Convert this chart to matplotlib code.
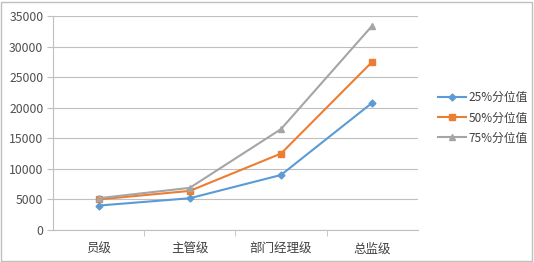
import matplotlib
matplotlib.use("Agg")
import matplotlib.pyplot as plt
from matplotlib.ticker import FixedLocator

plt.rcParams['font.family'] = ['Noto Sans CJK SC', 'DejaVu Sans']

categories = ["员级", "主管级", "部门经理级", "总监级"]
p25 = [4000, 5200, 9000, 20800]
p50 = [5000, 6400, 12500, 27500]
p75 = [5200, 6900, 16500, 33400]
series_names = ["25%分位值", "50%分位值", "75%分位值"]

fig = plt.figure(figsize=(5.34, 2.62), dpi=100)
ax = fig.add_axes([0.0993, 0.122, 0.683, 0.817])
x = list(range(len(categories)))
ax.plot(x, p25, color="#5B9BD5", marker="D", markersize=3.5, lw=1.5, label=series_names[0])
ax.plot(x, p50, color="#ED7D31", marker="s", markersize=5, lw=1.5, label=series_names[1])
ax.plot(x, p75, color="#A5A5A5", marker="^", markersize=5, lw=1.5, label=series_names[2])

ax.set_xlim(-0.5, 3.5)
ax.set_ylim(0, 35000)
ax.set_yticks(range(0, 35001, 5000))
ax.set_xticks(x)
ax.set_xticklabels(categories, fontsize=9, color="#404040")
ax.xaxis.set_minor_locator(FixedLocator([0.5, 1.5, 2.5]))
ax.tick_params(axis='x', which='major', length=0, pad=9)
ax.tick_params(axis='x', which='minor', length=4, color="#BFBFBF")
ax.tick_params(axis='y', labelsize=8.8, labelcolor="#505050", length=4, color="#BFBFBF", pad=3)
ax.grid(axis='y', color="#BFBFBF", lw=0.8)
ax.set_axisbelow(True)
for s in ["top", "right"]:
    ax.spines[s].set_visible(False)
ax.spines["left"].set_color("#BFBFBF")
ax.spines["bottom"].set_color("#BFBFBF")

leg = fig.legend(loc="center left", bbox_to_anchor=(0.8, 0.55), frameon=False,
                 fontsize=8.5, handlelength=2.4, labelspacing=0.6, handletextpad=0.2)
for t in leg.get_texts():
    t.set_color("#404040")

fig.patches.append(plt.Rectangle((0.002, 0.004), 0.994, 0.99, transform=fig.transFigure,
                                 fill=False, edgecolor="#BFBFBF", lw=1))
fig.savefig("out.png", dpi=100)
